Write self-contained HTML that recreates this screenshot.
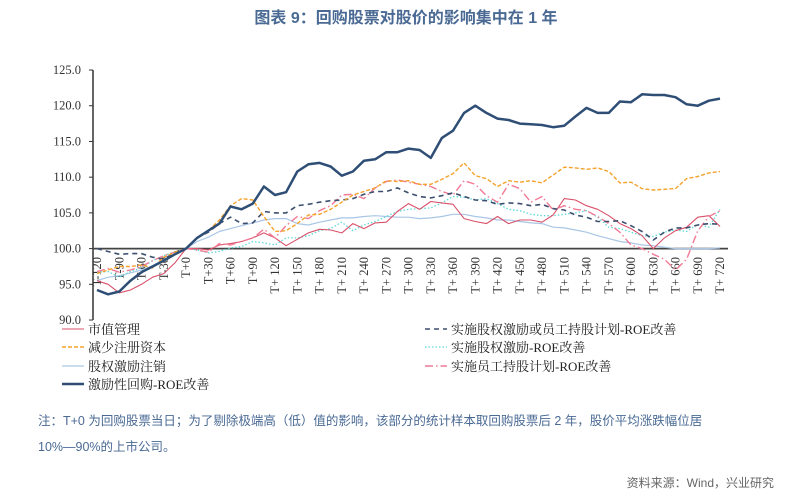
<!DOCTYPE html>
<html><head><meta charset="utf-8"><style>
body{margin:0;background:#fff;width:812px;height:498px;overflow:hidden;font-family:"Liberation Sans","Noto Sans CJK SC",sans-serif;}
svg text{font-family:"Liberation Serif","Noto Serif CJK SC",serif;}
</style></head><body>
<svg id="c" width="812" height="498">
<text x="406" y="23" text-anchor="middle" font-size="16" font-weight="bold" fill="#4a6a94" style="font-family:'Liberation Sans','Noto Sans CJK SC',sans-serif">图表 9：回购股票对股价的影响集中在 1 年</text>
<g id="axes"></g><g id="series"></g><g id="legend"></g>
<text x="38" y="425" font-size="12.5" fill="#4a6a94" style="font-family:'Liberation Sans','Noto Sans CJK SC',sans-serif">注：T+0 为回购股票当日；为了剔除极端高（低）值的影响，该部分的统计样本取回购股票后 2 年，股价平均涨跌幅位居</text>
<text x="38" y="451" font-size="12.5" fill="#4a6a94" style="font-family:'Liberation Sans','Noto Sans CJK SC',sans-serif">10%—90%的上市公司。</text>
<text x="774" y="487" text-anchor="end" font-size="12" fill="#666" style="font-family:'Liberation Sans','Noto Sans CJK SC',sans-serif">资料来源：Wind，兴业研究</text>
</svg>
<script>
const days=[];for(let d=-120;d<=720;d+=15)days.push(d);
const xTickLabels=["T-120","T-90","T-60","T-30","T+0","T+30","T+60","T+90","T+ 120","T+ 150","T+ 180","T+ 210","T+ 240","T+ 270","T+ 300","T+ 330","T+ 360","T+ 390","T+ 420","T+ 450","T+ 480","T+ 510","T+ 540","T+ 570","T+ 600","T+ 630","T+ 660","T+ 690","T+ 720"];
const yTicks=[90,95,100,105,110,115,120,125];
const sMarketCap=[95.5,95,93.8,94.2,95,96,96.5,98,100,100,99.8,100.5,100.7,101,101.5,102.2,101.5,100.4,101.3,102.2,102.7,102.6,102.2,103.5,102.8,103.6,103.7,105.2,106.3,105.5,106.6,106.4,106.2,104.2,103.8,103.5,104.5,103.5,104,104,103.7,104.7,107,106.8,106,105.5,104.6,103.5,102.8,101.8,100,101.5,102.5,103,104.4,104.6,103.1];
const sReduceCap=[96.5,97,97.5,97.5,97.7,97.3,98.8,99.5,100,101.5,102.5,104,106,107,106.8,104.5,102.4,102.5,103.5,104.7,104.8,105.5,106.5,107.5,108,108.5,109.5,109.4,109.5,109,109,109.7,110.5,112,110.2,109.8,108.7,109.5,109.3,109.5,109.2,110.3,111.4,111.3,111.1,111.3,110.8,109.2,109.3,108.4,108.2,108.3,108.4,109.8,110.1,110.6,110.8];
const sCancel=[95.5,96,96.2,96.6,97,97.6,98.5,99.2,100,101,101.6,102.4,102.8,103.2,103.6,104,104.2,104.2,103.5,103.3,103.7,104,104.3,104.3,104.5,104.6,104.5,104.4,104.4,104.2,104.3,104.5,104.8,104.8,104.5,104.3,104,104,103.8,103.6,103.5,103,102.9,102.6,102.3,101.8,101.4,101,100.8,100.5,100.4,100.2,100,100,100,100,100.1];
const sIncentive=[94.2,93.6,94,95.5,96.7,97.5,98.3,99.2,100,101.5,102.5,103.5,105.9,105.5,106.3,108.7,107.5,107.9,110.8,111.8,112,111.5,110.2,110.8,112.3,112.5,113.5,113.5,114,113.8,112.7,115.5,116.5,119,120,119,118.2,118,117.5,117.4,117.3,117,117.2,118.5,119.7,119,119,120.6,120.5,121.6,121.5,121.5,121.2,120.2,120,120.7,121];
const sEquityOrEsop=[100,99.6,99.2,99.3,99.3,98.8,98.5,99.5,100,101.5,102.3,103.5,104.4,103.5,103.6,105.2,105,105,106,106.2,106.5,106.7,106.8,107,107.6,108,108,108.5,107.8,107.3,107.1,107.4,107.8,107.3,106.8,106.7,106.2,106.4,106.3,106,106.2,105.6,105.4,104.7,104.4,103.8,103.8,103.9,103.2,102.4,101.2,102.3,102.9,102.9,103.3,103.5,103.4];
const sEquityRoe=[96.7,96.8,96,96.8,97.3,98.3,99,99.6,100,99.8,99.4,99.6,100.1,100.3,101,100.8,100.5,101.5,101.5,101.8,102.5,102.8,103.7,102.5,103.3,103.8,104.5,105.2,105.5,105.6,105.7,106.4,107.3,107.2,106.8,107,106.3,105.5,105.3,104.8,104.6,104.6,104.8,105,105.3,104.4,103,102.8,102.3,101.8,101.7,102.3,102.6,102.4,103.4,103,105.5];
const sEsopRoe=[96.8,97.2,96.7,97,97.5,98.3,99,99.5,100,99.8,99.5,100.7,100.5,101,101.5,102.7,101.5,103.2,104.5,104.2,105.3,106,107.5,107.6,107,108.5,109.4,109.6,109.3,109,108.7,108,107.5,109.5,109,107.4,106.5,109,108.4,106.5,107.3,105.4,106,105.5,105.3,104.5,103.5,102.3,100.5,100,99.2,98.5,97,98.5,102.5,104.5,105.3];
const X=d=>97+(d+120)*22.25/30;
const Y=v=>248.6-(v-100)*250/35;
const NS="http://www.w3.org/2000/svg";
function mk(tag,attrs,parent){const e=document.createElementNS(NS,tag);for(const k in attrs)e.setAttribute(k,attrs[k]);parent.appendChild(e);return e;}
const ax=document.getElementById('axes');
let yl=mk('line',{x1:93,y1:Y(125),x2:93,y2:Y(90),stroke:'#333','stroke-width':1.5},ax);


yTicks.forEach(v=>{
 let t=mk('line',{x1:89,y1:Y(v),x2:93,y2:Y(v),stroke:'#333'},ax);
 
 
 let tx=mk('text',{x:81,y:Y(v)+4,'text-anchor':'end','font-size':12.5,fill:'#333'},ax);tx.textContent=v.toFixed(1);
 
 
});
xTickLabels.forEach((l,i)=>{
 const x=X(-120+i*30);
 let tx=mk('text',{x:0,y:0,transform:`translate(${x+4},257) rotate(-90)`,'text-anchor':'end','font-size':12.5,fill:'#333'},ax);tx.textContent=l;
 
 
});
const sg=document.getElementById('series');
const series=[
 {d:sCancel,c:'#a9c6e6',w:1.2,da:'',n:'股权激励注销',id:'series-equity-cancel'},
 {d:sEquityRoe,c:'#5fd8d8',w:1.3,da:'1.5 2',n:'实施股权激励-ROE改善',id:'series-equity-incentive-roe'},
 {d:sMarketCap,c:'#d9506a',w:1.1,da:'',n:'市值管理',id:'series-market-cap'},
 {d:sEsopRoe,c:'#f27a96',w:1.4,da:'8 3 1.5 3',n:'实施员工持股计划-ROE改善',id:'series-esop-roe'},
 {d:sEquityOrEsop,c:'#3d4f6e',w:1.6,da:'5 4',n:'实施股权激励或员工持股计划-ROE改善',id:'series-equity-or-esop-roe'},
 {d:sReduceCap,c:'#f4a22c',w:1.4,da:'4 2',n:'减少注册资本',id:'series-reduce-capital'},
 {d:sIncentive,c:'#2f4e75',w:2.5,da:'',n:'激励性回购-ROE改善',id:'series-incentive-buyback'}
];
let zl=mk('line',{x1:93,y1:Y(100),x2:728,y2:Y(100),stroke:'#444','stroke-width':1.8},ax);


series.forEach(s=>{
 const p=s.d.map((v,i)=>(i?'L':'M')+X(days[i]).toFixed(1)+' '+Y(v).toFixed(1)).join(' ');
 let e=mk('path',{d:p,fill:'none',stroke:s.c,'stroke-width':s.w,'stroke-dasharray':s.da,'stroke-linejoin':'round'},sg);
 
 
});
const lg=document.getElementById('legend');
const pos={'series-market-cap':[62,329],'series-reduce-capital':[62,347],'series-equity-cancel':[62,366],'series-incentive-buyback':[62,384],'series-equity-or-esop-roe':[425,329],'series-equity-incentive-roe':[425,347],'series-esop-roe':[425,366]};
series.forEach(s=>{
 const [x,y]=pos[s.id];
 const g=mk('g',{},lg);
 
 
 mk('line',{x1:x,y1:y,x2:x+22,y2:y,stroke:s.c,'stroke-width':s.w,'stroke-dasharray':s.da},g);
 const t=mk('text',{x:x+26,y:y+5,'font-size':13,fill:'#222'},g);t.textContent=s.n;
});
</script>
</body></html>
